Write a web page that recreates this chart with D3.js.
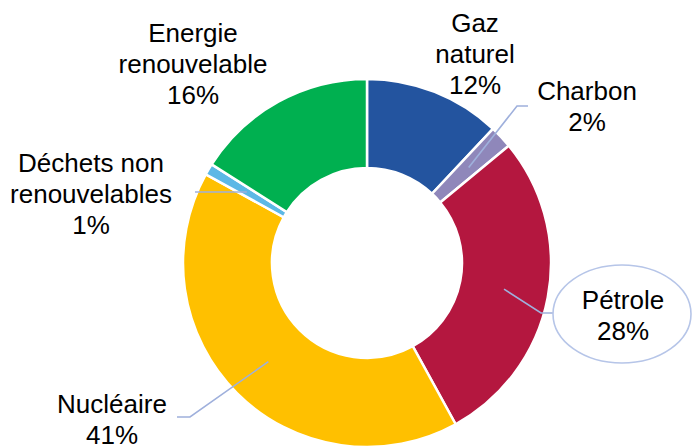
<!DOCTYPE html>
<html>
<head>
<meta charset="utf-8">
<script src="https://cdn.jsdelivr.net/npm/d3@7"></script>
<style>
  body { margin: 0; background: #fff; }
  svg { display: block; font-family: "Liberation Sans", Arial, sans-serif; }
</style>
</head>
<body>
<div id="app"></div>
<script>
// data
const categories = ["Gaz naturel", "Charbon", "Pétrole", "Nucléaire", "Déchets non renouvelables", "Energie renouvelable"];
const shares = [12, 2, 28, 41, 1, 16];
const labelLines = [["Gaz", "naturel"], ["Charbon"], ["Pétrole"], ["Nucléaire"], ["Déchets non", "renouvelables"], ["Energie", "renouvelable"]];

// layout
const width = 692, height = 446;
const cx = 367, cy = 263;
const outerR = 184, innerR = 95;
const colors = ["#23549f", "#8f87ba", "#b4173f", "#ffc000", "#5cb8e6", "#00b050"];
// label anchor (center x, first baseline y) per slice
const labelPos = [[475, 32], [587, 100], [623, 309], [112, 413], [91, 172], [193, 42]];
// leader line bends, null = no leader
const leaderPts = [null, [[517, 106], [528, 106]], [[541, 313], [553, 313]], [[190, 417], [177, 417]], [[195, 192]], null];
const lineH = 31;

const svg = d3.select('#app')
  .append('svg')
  .attr('width', width)
  .attr('height', height);

const pie = d3.pie().sort(null).value(d => d)(shares);
const arc = d3.arc().innerRadius(innerR).outerRadius(outerR);

const g = svg.append('g').attr('transform', `translate(${cx},${cy})`);

g.selectAll('path')
  .data(pie)
  .enter()
  .append('path')
  .attr('d', arc)
  .attr('fill', (d, i) => colors[i])
  .attr('stroke', '#fff')
  .attr('stroke-width', 2.5)
  .attr('stroke-linejoin', 'miter');

// leader lines
pie.forEach((d, i) => {
  if (!leaderPts[i]) return;
  const [x0, y0] = arc.centroid(d);
  const pts = [[x0 + cx, y0 + cy]].concat(leaderPts[i]);
  svg.append('path')
    .attr('d', d3.line()(pts))
    .attr('fill', 'none')
    .attr('stroke', '#9fb0dc')
    .attr('stroke-width', 1.6);
});

// callout bubble for Pétrole
svg.append('ellipse')
  .attr('cx', 622).attr('cy', 314)
  .attr('rx', 69).attr('ry', 49)
  .attr('fill', '#fff')
  .attr('stroke', '#b6c5e8')
  .attr('stroke-width', 1.6);

// labels
categories.forEach((c, i) => {
  const lines = labelLines[i].concat([shares[i] + '%']);
  const t = svg.append('text')
    .attr('text-anchor', 'middle')
    .attr('font-size', 26)
    .attr('fill', '#000');
  lines.forEach((l, j) => {
    t.append('tspan')
      .attr('x', labelPos[i][0])
      .attr('y', labelPos[i][1] + j * lineH)
      .text(l);
  });
});
</script>
</body>
</html>
